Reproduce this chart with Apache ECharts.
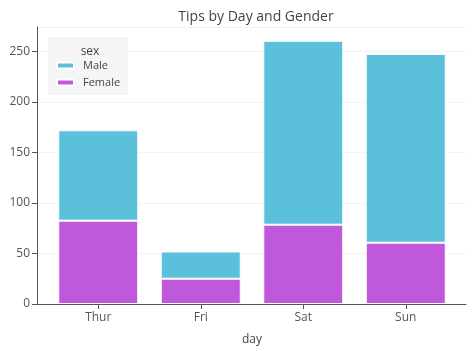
<!DOCTYPE html>
<html>
<head>
<meta charset="utf-8">
<script src="https://cdn.jsdelivr.net/npm/echarts@6/dist/echarts.min.js"></script>
<style>
  html, body { margin: 0; padding: 0; background: #fff; }
  #main { width: 474px; height: 351px; }
</style>
</head>
<body>
<div id="main"></div>
<script>
const days = ['Thur', 'Fri', 'Sat', 'Sun']
const femaleTips = [82.42, 25.03, 78.45, 60.61]
const maleTips = [89.41, 26.93, 181.95, 186.78]
const yMax = 274

const colors = ['#5bc0dc', '#c058dc']
const font = 'Open Sans'
const axisColor = '#555'

var myChart = echarts.init(document.getElementById('main'))

var option = {
  color: colors,
  animation: false,
  textStyle: { fontFamily: font },
  title: [
    {
      text: 'Tips by Day and Gender',
      left: 251,
      top: 5,
      textAlign: 'center',
      textStyle: { fontFamily: font, fontSize: 14, fontWeight: 'normal', color: '#444' }
    },
    {
      text: 'sex',
      left: 85,
      top: 41,
      textAlign: 'center',
      textStyle: { fontFamily: font, fontSize: 12, fontWeight: 'normal', color: '#444' }
    }
  ],
  legend: {
    orient: 'vertical',
    left: 48,
    top: 37,
    padding: [23, 8, 7, 8],
    itemGap: 6,
    itemWidth: 17,
    itemHeight: 6,
    backgroundColor: '#f5f5f5',
    data: ['Male', 'Female'],
    textStyle: { fontFamily: font, fontSize: 11, color: '#444', padding: [0, 0, 0, 4] }
  },
  // grid 0: the bars, grid 1: the full plot frame (y axis, grid lines, x axis line)
  grid: [
    { left: 47, right: 17, top: 27, bottom: 47 },
    { left: 37, right: 8, top: 27, bottom: 47 }
  ],
  xAxis: [
    {
      type: 'category',
      gridIndex: 0,
      data: days,
      name: 'day',
      nameLocation: 'middle',
      nameGap: 30,
      nameTextStyle: { fontFamily: font, fontSize: 12, color: '#444' },
      axisLine: { show: false },
      axisTick: { show: true, alignWithLabel: true, length: 5, lineStyle: { color: axisColor } },
      axisLabel: { color: axisColor, fontSize: 12, margin: 8 },
      splitLine: { show: false }
    },
    {
      type: 'value',
      gridIndex: 1,
      min: 0,
      max: 1,
      axisLine: { show: true, onZero: false, lineStyle: { color: axisColor, width: 1 } },
      axisTick: { show: false },
      axisLabel: { show: false },
      splitLine: { show: false }
    }
  ],
  yAxis: [
    {
      type: 'value',
      gridIndex: 0,
      min: 0,
      max: yMax,
      interval: 50,
      show: false
    },
    {
      type: 'value',
      gridIndex: 1,
      min: 0,
      max: yMax,
      interval: 50,
      axisLine: { show: true, onZero: false, lineStyle: { color: axisColor, width: 1 } },
      axisTick: { show: true, length: 5, lineStyle: { color: axisColor } },
      axisLabel: { color: axisColor, fontSize: 12, margin: 7, showMaxLabel: false },
      splitLine: { show: true, lineStyle: { color: '#f2f2f2', width: 1 } }
    }
  ],
  series: [
    {
      name: 'Female',
      type: 'bar',
      stack: 'tips',
      barWidth: 80,
      itemStyle: { color: colors[1], borderColor: '#fff', borderWidth: 1 },
      data: femaleTips
    },
    {
      name: 'Male',
      type: 'bar',
      stack: 'tips',
      barWidth: 80,
      itemStyle: { color: colors[0], borderColor: '#fff', borderWidth: 1 },
      data: maleTips
    }
  ]
}

myChart.setOption(option)
</script>
</body>
</html>
